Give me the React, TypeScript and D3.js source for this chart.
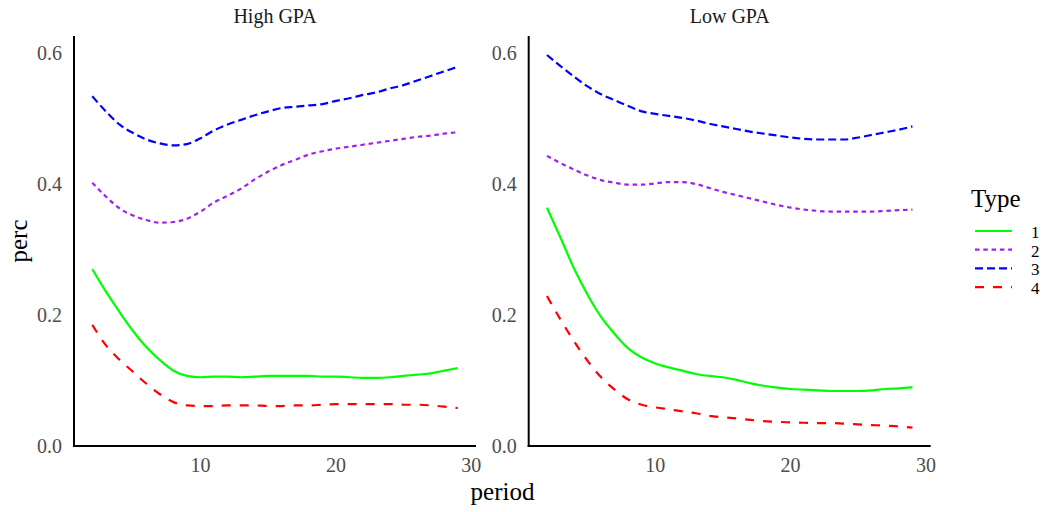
import React from "react";
import * as d3 from "d3";

const periods = [2,3,4,5,6,7,8,9,10,11,12,13,14,15,16,17,18,19,20,21,22,23,24,25,26,27,28,29];
const facets = ["High GPA", "Low GPA"];
const types = ["1", "2", "3", "4"];
const yTicks = [0.0, 0.2, 0.4, 0.6];
const xTicks = [10, 20, 30];

// High GPA
const high1 = [0.270,0.236,0.205,0.176,0.151,0.131,0.115,0.107,0.105,0.106,0.106,0.105,0.106,0.107,0.107,0.107,0.107,0.106,0.106,0.105,0.104,0.104,0.105,0.107,0.109,0.111,0.115,0.119];
const high2 = [0.402,0.381,0.363,0.352,0.345,0.341,0.342,0.347,0.358,0.372,0.382,0.393,0.407,0.419,0.429,0.437,0.445,0.450,0.454,0.457,0.460,0.463,0.466,0.469,0.472,0.474,0.477,0.479];
const high3 = [0.534,0.511,0.491,0.478,0.468,0.462,0.459,0.461,0.470,0.482,0.491,0.498,0.505,0.511,0.516,0.518,0.520,0.522,0.527,0.531,0.536,0.540,0.546,0.551,0.558,0.565,0.572,0.579];
const high4 = [0.185,0.154,0.132,0.1135,0.095,0.079,0.067,0.062,0.061,0.061,0.062,0.062,0.062,0.061,0.061,0.062,0.062,0.063,0.064,0.064,0.064,0.064,0.064,0.063,0.063,0.062,0.060,0.058];
// Low GPA
const low1 = [0.364,0.318,0.271,0.231,0.197,0.171,0.149,0.135,0.126,0.120,0.115,0.110,0.107,0.105,0.101,0.096,0.092,0.089,0.087,0.086,0.085,0.084,0.084,0.084,0.085,0.087,0.088,0.090];
const low2 = [0.443,0.432,0.422,0.413,0.406,0.402,0.399,0.399,0.401,0.403,0.403,0.400,0.394,0.388,0.383,0.378,0.373,0.368,0.364,0.361,0.359,0.358,0.358,0.358,0.358,0.359,0.360,0.361];
const low3 = [0.597,0.580,0.564,0.549,0.537,0.528,0.519,0.511,0.507,0.504,0.501,0.497,0.492,0.488,0.484,0.480,0.477,0.474,0.471,0.469,0.468,0.468,0.468,0.471,0.475,0.479,0.483,0.488];
const low4 = [0.229,0.193,0.160,0.130,0.105,0.086,0.071,0.063,0.059,0.056,0.053,0.050,0.046,0.044,0.042,0.040,0.038,0.037,0.036,0.0355,0.035,0.035,0.034,0.033,0.032,0.031,0.030,0.028];

const seriesByFacet: number[][][] = [
  [high1, high2, high3, high4],
  [low1, low2, low3, low4],
];

const colors = ["#00FF00", "#A020F0", "#0000FF", "#FF0000"];
const dashes = ["none", "4.5,3.8", "8,4", "9,9"];

const FONT = "'Liberation Serif', 'Times New Roman', serif";

export default function App() {
  const W = 1047, H = 512;
  const panelLefts = [74, 528.7];
  const panelW = 402;
  const top = 36, bottom = 446;

  const y = d3.scaleLinear().domain([0, 0.626]).range([bottom, top]);

  return (
    <svg width={W} height={H} style={{ position: "absolute", left: 0, top: 0, background: "#fff" }} fontFamily={FONT}>
      {facets.map((f, fi) => {
        const x = d3.scaleLinear().domain([0.65, 30.35]).range([panelLefts[fi], panelLefts[fi] + panelW]);
        const line = d3.line<number>()
          .x((_, i) => x(periods[i]))
          .y((d) => y(d))
          .curve(d3.curveMonotoneX);
        return (
          <g key={f}>
            <text x={panelLefts[fi] + panelW / 2} y={23} textAnchor="middle" fontSize={20} fill="#1a1a1a">{f}</text>
            {seriesByFacet[fi].map((s, si) => (
              <path key={si} d={line(s) || ""} fill="none" stroke={colors[si]} strokeWidth={2.2}
                strokeDasharray={dashes[si]} />
            ))}
            <line x1={panelLefts[fi]} x2={panelLefts[fi]} y1={top} y2={bottom + 1} stroke="#000" strokeWidth={2} />
            <line x1={panelLefts[fi] - 1} x2={panelLefts[fi] + panelW} y1={bottom} y2={bottom} stroke="#000" strokeWidth={2} />
            {yTicks.map((t) => (
              <text key={t} x={panelLefts[fi] - 12} y={y(t)} dy="0.35em" textAnchor="end" fontSize={20} fill="#4d4d4d">{t.toFixed(1)}</text>
            ))}
            {xTicks.map((t) => (
              <text key={t} x={x(t)} y={472} textAnchor="middle" fontSize={20} fill="#4d4d4d">{t}</text>
            ))}
          </g>
        );
      })}
      <text x={502.5} y={500} textAnchor="middle" fontSize={25} fill="#000">period</text>
      <text transform="translate(27,241) rotate(-90)" textAnchor="middle" fontSize={25} fill="#000">perc</text>
      <text x={971} y={206.5} fontSize={25} fill="#000">Type</text>
      {types.map((t, i) => {
        const ly = 231 + i * 18.7;
        return (
          <g key={t}>
            <line x1={975} x2={1012} y1={ly} y2={ly} stroke={colors[i]} strokeWidth={2.2} strokeDasharray={dashes[i]} />
            <text x={1031} y={ly} dy="0.4em" fontSize={17} fill="#000">{t}</text>
          </g>
        );
      })}
    </svg>
  );
}
